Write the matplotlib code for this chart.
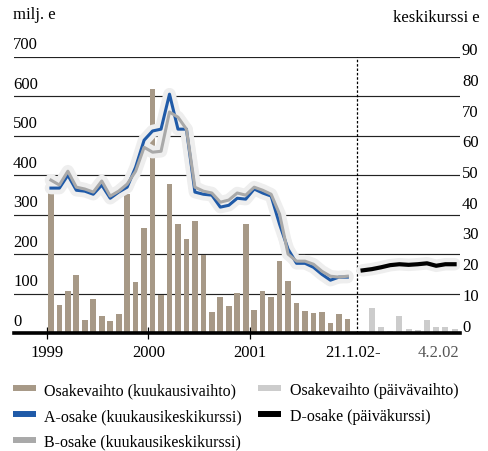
import numpy as np
import matplotlib.pyplot as plt
from matplotlib.lines import Line2D

plt.rcParams['font.family'] = ['Liberation Serif', 'DejaVu Serif']

# Osakevaihto kuukausittain 1/1999 - 12/2001, milj. e
vaihto_kk = [356, 72, 106, 148, 34, 87, 42, 31, 49, 353, 128, 265,
             617, 97, 377, 275, 239, 285, 197, 53, 90, 68, 102, 277,
             59, 106, 90, 182, 131, 77, 57, 50, 52, 25, 47, 35]

# A- ja B-osakkeen kuukausikeskikurssi, e
a_osake = [47.2, 47.2, 51.4, 46.5, 46.2, 45.2, 48.2, 43.9, 45.9, 47.5, 54.0, 62.8,
           65.8, 66.4, 77.8, 66.4, 66.4, 45.9, 45.2, 44.9, 41.0, 41.6, 43.9, 43.6,
           46.9, 45.6, 44.6, 35.4, 27.3, 22.7, 22.7, 21.4, 19.1, 17.2, 18.2, 18.2]
b_osake = [49.8, 48.2, 52.7, 47.5, 46.9, 45.9, 49.5, 44.6, 46.2, 48.5, 52.7, 60.5,
           58.9, 59.2, 72.0, 70.3, 66.4, 47.5, 46.2, 45.6, 42.6, 43.3, 45.6, 44.9,
           47.5, 46.5, 45.2, 38.7, 25.7, 23.4, 23.4, 22.4, 20.1, 18.5, 18.2, 18.5]

# Päivävaihto ja D-osakkeen päiväkurssi 21.1.02 - 4.2.02
vaihto_pv = [5, 64, 16, 6, 42, 11, 8, 34, 14, 14, 9]
d_osake = [20.4, 20.8, 21.4, 22.1, 22.4, 22.2, 22.4, 22.7, 21.9, 22.4, 22.4]

vuodet = ['1999', '2000', '2001']
vasen_tikit = [0, 100, 200, 300, 400, 500, 600, 700]
oikea_tikit = [0, 10, 20, 30, 40, 50, 60, 70, 80, 90]

c_kk = '#a79987'
c_pv = '#cccccc'
c_a = '#1f5aa8'
c_b = '#a9a9a9'
c_halo = '#eeeeee'

W, H = 489, 452
fig = plt.figure(figsize=(W / 100, H / 100), dpi=100)
ax = fig.add_axes([14 / W, 1 - 334 / H, 446 / W, 276.3 / H])
ax2 = ax.twinx()

kk_x = np.arange(len(vaihto_kk)) + 0.5
pv_x = 37.3 + np.arange(len(vaihto_pv)) * 1.086
raja = 36.6

ax.set_xlim(-3.86, 48.8)
ax.set_ylim(0, 700)
ax2.set_ylim(0, 90)

for v in vasen_tikit[1:]:
    ax.axhline(v, color='#222222', lw=0.85, zorder=1)

ax.bar(kk_x, vaihto_kk, width=0.67, color=c_kk, zorder=2)
ax.bar(pv_x, vaihto_pv, width=0.69, color=c_pv, zorder=2)
ax.axvline(raja, color='black', lw=0.9, ls=(0, (2, 1.5)), zorder=2.5)
ax.axhline(0, color='black', lw=2.6, zorder=3, clip_on=False)

for a in (ax, ax2):
    for s in a.spines.values():
        s.set_visible(False)
    a.set_yticks([])

ax.set_xticks([0, 12, 24])
ax.set_xticklabels([])
ax.tick_params(axis='x', direction='inout', length=8, width=0.9, color='black')

for x, lab, col in zip([0, 12, 24, 36.16, 46.26], vuodet + ['21.1.02-', '4.2.02'],
                       ['black'] * 4 + ['#555555']):
    ax.annotate(lab, xy=(x, 0), xycoords=('data', 'axes fraction'), xytext=(0, -19),
                textcoords='offset pixels', ha='center', va='center', fontsize=12, color=col)

for v in vasen_tikit:
    ax.annotate(str(v), xy=(0, v), xycoords=('axes fraction', 'data'), xytext=(-1, 12.5),
                textcoords='offset pixels', ha='left', va='center', fontsize=12)
for v in oikea_tikit:
    ax2.annotate(str(v), xy=(1, v), xycoords=('axes fraction', 'data'), xytext=(2, 6.5),
                 textcoords='offset pixels', ha='left', va='center', fontsize=12)

for y in (a_osake, b_osake):
    ax2.plot(kk_x, y, color=c_halo, lw=9, solid_joinstyle='round', solid_capstyle='round', zorder=4)
ax2.plot(pv_x, d_osake, color=c_halo, lw=9, solid_capstyle='round', zorder=4)
ax2.plot(kk_x, a_osake, color=c_a, lw=2.2, zorder=5)
ax2.plot(kk_x, b_osake, color=c_b, lw=2.2, zorder=5)
ax2.plot(pv_x, d_osake, color='black', lw=3, solid_capstyle='projecting', zorder=5)

fig.text(13 / W, 1 - 15 / H, 'milj. e', ha='left', va='center', fontsize=12)
fig.text(480 / W, 1 - 18 / H, 'keskikurssi e', ha='right', va='center', fontsize=12)

kahvat = [Line2D([], [], color=c_kk, lw=4.3, solid_capstyle='butt'),
          Line2D([], [], color=c_a, lw=4.3, solid_capstyle='butt'),
          Line2D([], [], color=c_b, lw=4.3, solid_capstyle='butt'),
          Line2D([], [], color=c_pv, lw=4.3, solid_capstyle='butt'),
          Line2D([], [], color='black', lw=4.3, solid_capstyle='butt')]
nimet = ['Osakevaihto (kuukausivaihto)', 'A-osake (kuukausikeskikurssi)',
         'B-osake (kuukausikeskikurssi)', 'Osakevaihto (päivävaihto)',
         'D-osake (päiväkurssi)']
fig.legend(kahvat, nimet, loc='upper left', bbox_to_anchor=(13 / W, 1 - 383 / H),
           ncol=2, frameon=False, fontsize=11.5, borderpad=0, borderaxespad=0,
           handlelength=1.42, handletextpad=0.55, columnspacing=1.0, labelspacing=0.62)

fig.savefig('out.png', dpi=100)
